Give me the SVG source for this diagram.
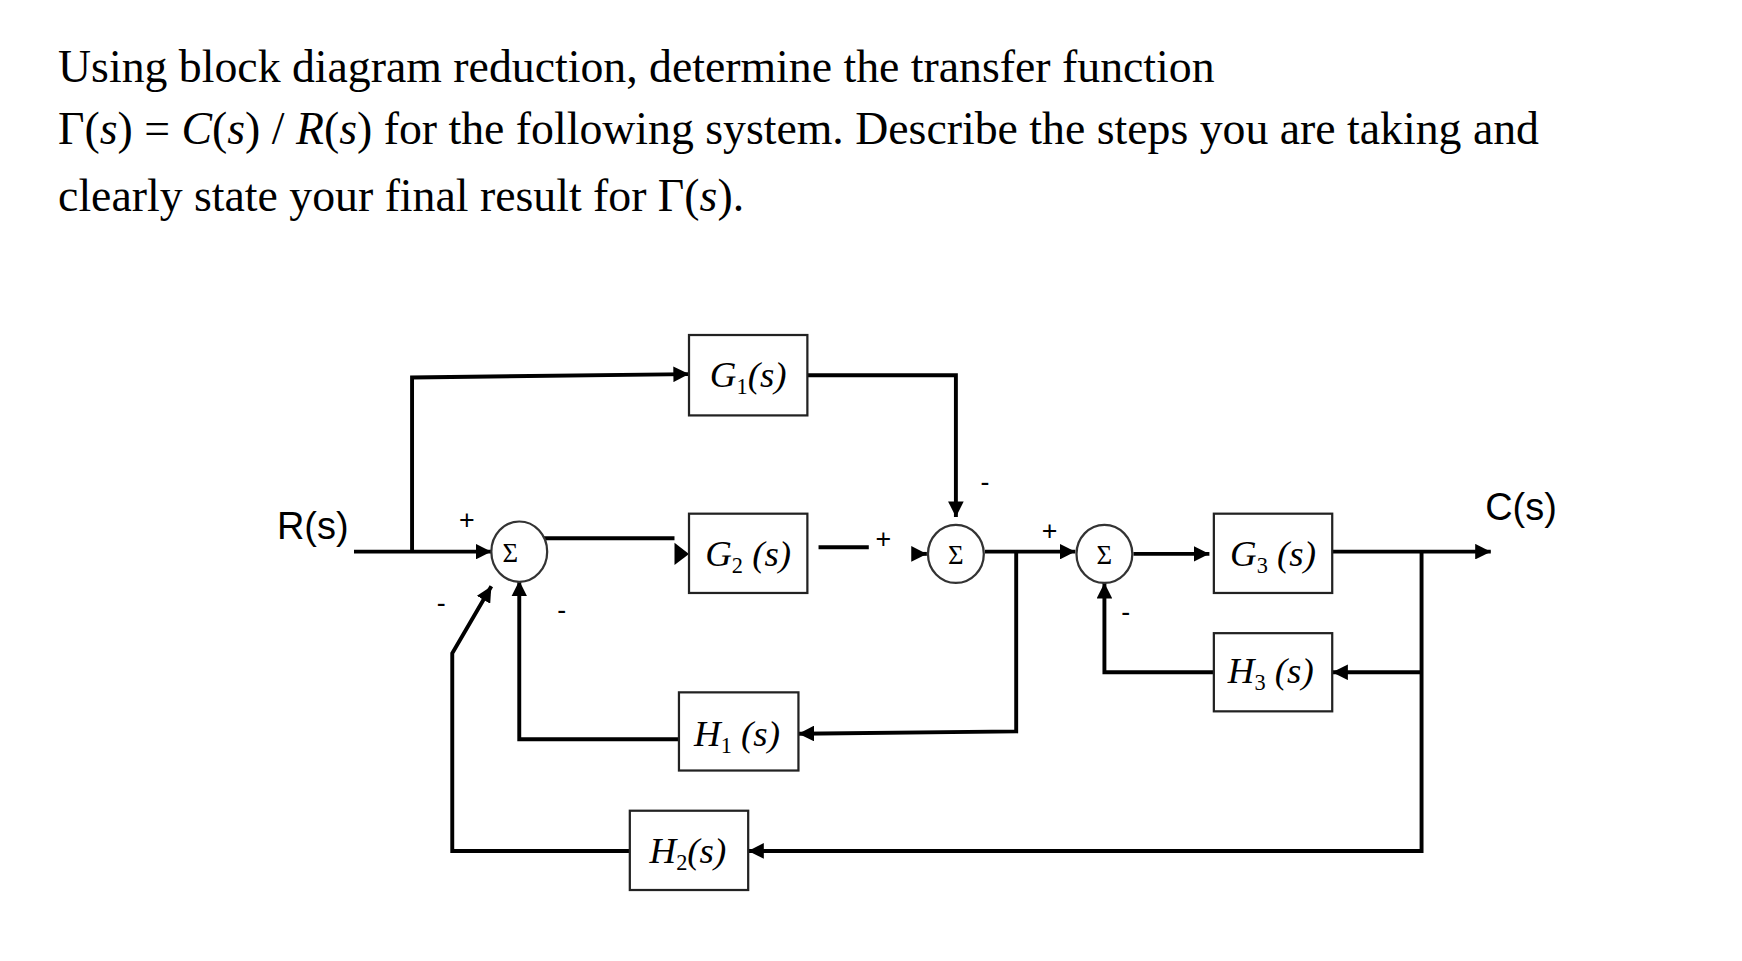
<svg xmlns="http://www.w3.org/2000/svg" width="1742" height="961" viewBox="0 0 1742 961">
<defs>
<marker id="ar" viewBox="0 0 10 10" refX="10" refY="5" markerWidth="14" markerHeight="14" markerUnits="userSpaceOnUse" orient="auto"><path d="M0,0L10,5L0,10z" fill="#000"/></marker>
<style>
.q{font-family:"Liberation Serif",serif;font-size:41px;fill:#000}
.b{fill:#fff;stroke:#222;stroke-width:2}
.t{font-family:"Liberation Serif",serif;font-style:italic;font-size:33px;text-anchor:middle}
.sub{font-size:20px;font-style:normal}
.s{fill:#fff;stroke:#333;stroke-width:2}
.sg{font-family:"Liberation Serif",serif;font-size:24px;text-anchor:middle}
.l{font-family:"Liberation Sans",sans-serif;font-size:34px}
.pm{font-family:"Liberation Sans",sans-serif;font-size:24px;text-anchor:middle}
.w{fill:none;stroke:#000;stroke-width:3.5}
</style>
</defs>
<rect width="1742" height="961" fill="#fff"/>
<g transform="scale(1.1167)">
<g id="question">
<text class="q" x="52" y="73">Using block diagram reduction, determine the transfer function</text>
<text class="q" x="52" y="129">Γ(<tspan font-style="italic">s</tspan>) = <tspan font-style="italic">C</tspan>(<tspan font-style="italic">s</tspan>) / <tspan font-style="italic">R</tspan>(<tspan font-style="italic">s</tspan>) for the following system. Describe the steps you are taking and</text>
<text class="q" x="52" y="189">clearly state your final result for Γ(<tspan font-style="italic">s</tspan>).</text>
</g>
<g id="connectors">
<path class="w" d="M317,494H440" marker-end="url(#ar)"/>
<path class="w" d="M369,494V338L617,335" marker-end="url(#ar)"/>
<path class="w" d="M723,336H856V463" marker-end="url(#ar)"/>
<path class="w" d="M485,482H604" stroke-width="5"/>
<path d="M604,486L617,496L604,506z"/>
<path class="w" d="M733,490H778" stroke-width="5"/>
<path class="w" d="M818,496H830" marker-end="url(#ar)"/>
<path class="w" d="M882,494H963" marker-end="url(#ar)"/>
<path class="w" d="M910,494V655L715,657" marker-end="url(#ar)"/>
<path class="w" d="M608,662H465V520" marker-end="url(#ar)"/>
<path class="w" d="M1015,496H1083" stroke-width="5" marker-end="url(#ar)"/>
<path class="w" d="M1193,494H1335" marker-end="url(#ar)"/>
<path class="w" d="M1273,494V762H670" marker-end="url(#ar)"/>
<path class="w" d="M1273,602H1193" marker-end="url(#ar)"/>
<path class="w" d="M1087,602H989V522" marker-end="url(#ar)"/>
<path class="w" d="M564,762H405V585L440,525" marker-end="url(#ar)"/>
</g>
<g id="G1"><rect class="b" x="617" y="300" width="106" height="72"/><text class="t" x="670" y="347">G<tspan class="sub" dy="6">1</tspan><tspan dy="-6">(s)</tspan></text></g>
<g id="G2"><rect class="b" x="617" y="460" width="106" height="71"/><text class="t" x="670" y="507">G<tspan class="sub" dy="6">2</tspan><tspan dy="-6"> (s)</tspan></text></g>
<g id="G3"><rect class="b" x="1087" y="460" width="106" height="71"/><text class="t" x="1140" y="507">G<tspan class="sub" dy="6">3</tspan><tspan dy="-6"> (s)</tspan></text></g>
<g id="H3"><rect class="b" x="1087" y="567" width="106" height="70"/><text class="t" x="1138" y="612">H<tspan class="sub" dy="6">3</tspan><tspan dy="-6"> (s)</tspan></text></g>
<g id="H1"><rect class="b" x="608" y="620" width="107" height="70"/><text class="t" x="660" y="668">H<tspan class="sub" dy="6">1</tspan><tspan dy="-6"> (s)</tspan></text></g>
<g id="H2"><rect class="b" x="564" y="726" width="106" height="71"/><text class="t" x="616" y="773">H<tspan class="sub" dy="6">2</tspan><tspan dy="-6">(s)</tspan></text></g>
<g id="S1"><ellipse class="s" cx="465" cy="494" rx="25" ry="27"/><text class="sg" x="457" y="503">Σ</text></g>
<g id="S2"><ellipse class="s" cx="856" cy="496" rx="25" ry="26"/><text class="sg" x="856" y="505">Σ</text></g>
<g id="S3"><ellipse class="s" cx="989" cy="496" rx="25" ry="26"/><text class="sg" x="989" y="505">Σ</text></g>
<g id="labels">
<text class="l" x="248" y="483">R(s)</text>
<text class="l" x="1330" y="466">C(s)</text>
<text class="pm" x="418" y="474">+</text>
<text class="pm" x="395" y="548">-</text>
<text class="pm" x="503" y="554">-</text>
<text class="pm" x="791" y="491">+</text>
<text class="pm" x="882" y="440">-</text>
<text class="pm" x="940" y="484">+</text>
<text class="pm" x="1008" y="556">-</text>
</g>
</g>
</svg>
